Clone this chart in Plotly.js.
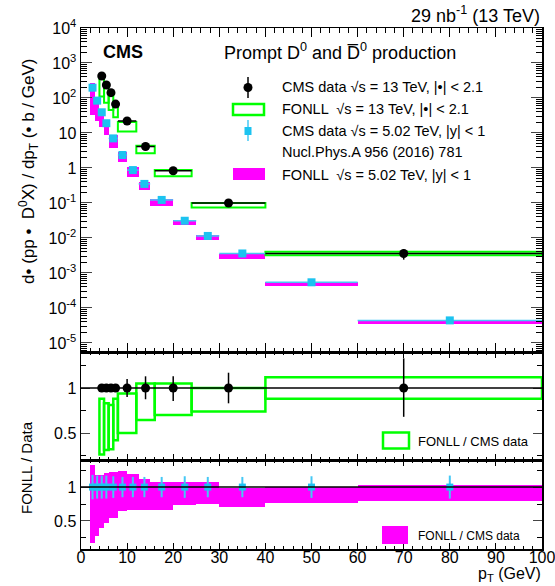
<!DOCTYPE html>
<html><head><meta charset="utf-8">
<script src="https://cdn.plot.ly/plotly-3.0.1.min.js"></script>
<style>body{margin:0;background:#fff}#c{width:555px;height:586px}</style>
</head><body><div id="c"></div>
<script>
// ---- 13 TeV CMS data (|eta|<2.1) ----
const bins13Lo = [4, 5, 6, 7, 8, 12, 16, 24, 40];
const bins13Hi = [5, 6, 7, 8, 12, 16, 24, 40, 100];
const pt13 = [4.5, 5.5, 6.5, 7.5, 10, 14, 20, 32, 70];
const cms13 = [425, 235, 142, 67, 22, 4.1, 0.83, 0.10, 0.0036];
const cms13Err = [15, 8, 5, 2.5, 2.2, 0.53, 0.12, 0.017, 0.0012];
const fonll13Min = [110, 73, 45, 28, 11, 2.64, 0.58, 0.074, 0.0032];
const fonll13Max = [374, 195, 115, 59, 20.7, 4.3, 0.87, 0.10, 0.0040];
const ratio13Min = [0.26, 0.31, 0.32, 0.42, 0.50, 0.645, 0.70, 0.74, 0.88];
const ratio13Max = [0.88, 0.83, 0.81, 0.88, 0.94, 1.05, 1.05, 1.00, 1.12];
const data13Ratio = [1, 1, 1, 1, 1, 1, 1, 1, 1];
const ratio13ErrUp = [0.02, 0.02, 0.02, 0.02, 0.10, 0.13, 0.13, 0.17, 0.33];
const ratio13ErrDn = [0.02, 0.02, 0.02, 0.02, 0.10, 0.125, 0.145, 0.17, 0.32];

// ---- 5.02 TeV CMS data (|y|<1) ----
const bins5Lo = [2, 3, 4, 5, 6, 8, 10, 12.5, 15, 20, 25, 30, 40, 60];
const bins5Hi = [3, 4, 5, 6, 8, 10, 12.5, 15, 20, 25, 30, 40, 60, 100];
const pt5 = [2.5, 3.5, 4.5, 5.5, 7, 9, 11.25, 13.75, 17.5, 22.5, 27.5, 35, 50, 80];
const cms5 = [197, 84, 39, 19, 7.0, 2.35, 0.87, 0.35, 0.122, 0.031, 0.0114, 0.0036, 0.00054, 0.000044];
const cms5Err = [30, 13, 6, 3, 1.1, 0.35, 0.13, 0.05, 0.018, 0.005, 0.0017, 0.00055, 0.00008, 0.000007];
const fonll5Min = [33.5, 22.7, 15.2, 8.8, 3.8, 1.5, 0.57, 0.23, 0.080, 0.023, 0.0086, 0.00256, 0.00042, 0.000035];
const fonll5Max = [262, 99, 46, 23, 8.5, 2.9, 1.04, 0.39, 0.131, 0.033, 0.0122, 0.00355, 0.00054, 0.0000455];
const ratio5Min = [0.17, 0.27, 0.39, 0.465, 0.54, 0.64, 0.66, 0.66, 0.66, 0.74, 0.75, 0.71, 0.77, 0.80];
const ratio5Max = [1.33, 1.18, 1.18, 1.21, 1.22, 1.24, 1.20, 1.12, 1.07, 1.07, 1.07, 0.985, 1.0, 1.035];
const data5Ratio = [1, 1, 1, 1, 1, 1, 1, 1, 1, 1, 1, 1, 1, 1];
const ratio5Err = [0.18, 0.17, 0.17, 0.17, 0.16, 0.15, 0.15, 0.15, 0.15, 0.16, 0.15, 0.15, 0.16, 0.17];

// ---- axis tick labels ----
const logTickVals = [1e-5, 1e-4, 1e-3, 1e-2, 1e-1, 1, 10, 100, 1000, 10000];
const logTickText = ['10<sup>-5</sup>', '10<sup>-4</sup>', '10<sup>-3</sup>', '10<sup>-2</sup>', '10<sup>-1</sup>', '1', '10', '10<sup>2</sup>', '10<sup>3</sup>', '10<sup>4</sup>'];
const ratioTickVals = [0.5, 1];
const ratioTickText = ['0.5', '1'];
const xTickVals = [0, 10, 20, 30, 40, 50, 60, 70, 80, 90, 100];
const xTickText = ['0', '10', '20', '30', '40', '50', '60', '70', '80', '90', '100'];

const GREEN = '#00ff00', MAG = '#ff00ff', CYAN = '#1cc3f0', CYANERR = '#45c8f5';
const FONT = 'Liberation Sans, Arial, sans-serif';

const widths = (lo, hi) => lo.map((v, i) => hi[i] - v);
const halfw = (lo, hi) => lo.map((v, i) => (hi[i] - v) / 2);
const mids = (lo, hi) => lo.map((v, i) => (hi[i] + v) / 2);
const diff = (a, b) => a.map((v, i) => b[i] - v);

const traces = [
  {type: 'bar', xaxis: 'x3', yaxis: 'y3', x: mids(bins5Lo, bins5Hi), width: widths(bins5Lo, bins5Hi),
   base: fonll5Min, y: diff(fonll5Min, fonll5Max), marker: {color: MAG, line: {width: 0}}, hoverinfo: 'skip'},
  {type: 'scatter', mode: 'markers', xaxis: 'x3', yaxis: 'y3', x: pt5, y: cms5,
   error_y: {type: 'data', array: cms5Err, color: CYANERR, thickness: 1.5, width: 0},
   error_x: {type: 'data', array: halfw(bins5Lo, bins5Hi), color: CYANERR, thickness: 1.5, width: 0},
   marker: {symbol: 'square', size: 8, color: CYAN}},
  {type: 'bar', xaxis: 'x3', yaxis: 'y3', x: mids(bins13Lo, bins13Hi), width: widths(bins13Lo, bins13Hi),
   base: fonll13Min, y: diff(fonll13Min, fonll13Max), marker: {color: 'rgba(0,0,0,0)', line: {width: 2, color: GREEN}}, hoverinfo: 'skip'},
  {type: 'scatter', mode: 'markers', xaxis: 'x3', yaxis: 'y3', x: pt13, y: cms13,
   error_y: {type: 'data', array: cms13Err, color: '#000', thickness: 1.5, width: 0},
   error_x: {type: 'data', array: halfw(bins13Lo, bins13Hi), color: '#000', thickness: 1.5, width: 0},
   marker: {symbol: 'circle', size: 9, color: '#000'}},

  {type: 'bar', xaxis: 'x2', yaxis: 'y2', x: mids(bins13Lo, bins13Hi), width: widths(bins13Lo, bins13Hi),
   base: ratio13Min, y: diff(ratio13Min, ratio13Max), marker: {color: 'rgba(0,0,0,0)', line: {width: 2.5, color: GREEN}}, hoverinfo: 'skip'},
  {type: 'scatter', mode: 'markers', xaxis: 'x2', yaxis: 'y2', x: pt13, y: data13Ratio,
   error_y: {type: 'data', symmetric: false, array: ratio13ErrUp, arrayminus: ratio13ErrDn, color: '#000', thickness: 1.5, width: 0},
   marker: {symbol: 'circle', size: 9, color: '#000'}},

  {type: 'bar', xaxis: 'x', yaxis: 'y', x: mids(bins5Lo, bins5Hi), width: widths(bins5Lo, bins5Hi),
   base: ratio5Min, y: diff(ratio5Min, ratio5Max), marker: {color: MAG, line: {width: 0}}, hoverinfo: 'skip'},
  {type: 'scatter', mode: 'markers', xaxis: 'x', yaxis: 'y', x: pt5, y: data5Ratio,
   error_y: {type: 'data', array: ratio5Err, color: CYANERR, thickness: 2, width: 0},
   marker: {symbol: 'square', size: 7, color: CYAN}}
];

const PX = v => (v - 81) / 461;
const PY = v => (549 - v) / 521;

const baseX = {range: [0, 100], ticks: 'inside', showline: true, linecolor: '#000', linewidth: 1.5, mirror: 'ticks',
  tickmode: 'array', tickvals: xTickVals, ticktext: xTickText, tickcolor: '#000', tickwidth: 1, showgrid: false, zeroline: false,
  ticklabeloverflow: 'allow', tickfont: {family: FONT, size: 16, color: '#000'}};
const ratioY = {ticks: 'inside', ticklen: 9, tickmode: 'array', tickvals: ratioTickVals, ticktext: ratioTickText,
  minor: {tick0: 0, dtick: 0.25, ticklen: 5, ticks: 'inside', tickcolor: '#000'}, showline: true, linecolor: '#000', linewidth: 1.5,
  mirror: 'ticks', showgrid: false, zeroline: false, tickfont: {family: FONT, size: 16, color: '#000'}};

const layout = {
  width: 555, height: 586, paper_bgcolor: '#fff', plot_bgcolor: '#fff', showlegend: false,
  margin: {l: 81, r: 13, t: 28, b: 37}, barmode: 'overlay', bargap: 0,
  font: {family: FONT, color: '#000'},
  xaxis: Object.assign({}, baseX, {anchor: 'y', ticklen: 6, ticklabelstandoff: -7, minor: {tick0: 0, dtick: 2, ticklen: 3, ticks: 'inside', tickcolor: '#000'}}),
  xaxis2: Object.assign({}, baseX, {anchor: 'y2', matches: 'x', showticklabels: false, ticklen: 6, minor: {tick0: 0, dtick: 2, ticklen: 3, ticks: 'inside', tickcolor: '#000'}}),
  xaxis3: Object.assign({}, baseX, {anchor: 'y3', matches: 'x', showticklabels: false, ticklen: 9, minor: {tick0: 0, dtick: 2, ticklen: 4.5, ticks: 'inside', tickcolor: '#000'}}),
  yaxis: Object.assign({}, ratioY, {domain: [0, 0.1708], range: [0.085, 1.4]}),
  yaxis2: Object.assign({}, ratioY, {domain: [0.1708, 0.3781], range: [0.2, 1.4]}),
  yaxis3: {domain: [0.3781, 1], type: 'log', range: [-5.26, 4], ticks: 'inside', ticklen: 11, tickmode: 'array',
    tickvals: logTickVals, ticktext: logTickText,
    minor: {dtick: 'D1', ticklen: 6, ticks: 'inside', tickcolor: '#000'}, showline: true, linecolor: '#000', linewidth: 1.5, mirror: 'ticks',
    showgrid: false, zeroline: false, tickfont: {family: FONT, size: 16, color: '#000'}},
  shapes: [
    {type: 'line', xref: 'x2 domain', yref: 'y2', x0: 0, x1: 1, y0: 1, y1: 1, line: {color: '#000', width: 1.5}},
    {type: 'line', xref: 'x domain', yref: 'y', x0: 0, x1: 1, y0: 1, y1: 1, line: {color: '#000', width: 1.5}},
    {type: 'line', xref: 'paper', yref: 'paper', x0: PX(248), x1: PX(248), y0: PY(77), y1: PY(98), line: {color: '#000', width: 1.5}},
    {type: 'circle', xref: 'paper', yref: 'paper', x0: PX(243.5), x1: PX(252.5), y0: PY(83), y1: PY(92), fillcolor: '#000', line: {color: '#000', width: 0}},
    {type: 'rect', xref: 'paper', yref: 'paper', x0: PX(233), x1: PX(264), y0: PY(104), y1: PY(115), line: {color: GREEN, width: 2.5}},
    {type: 'line', xref: 'paper', yref: 'paper', x0: PX(248), x1: PX(248), y0: PY(120), y1: PY(141), line: {color: CYANERR, width: 1.5}},
    {type: 'rect', xref: 'paper', yref: 'paper', x0: PX(244.5), x1: PX(251.5), y0: PY(127), y1: PY(135), fillcolor: CYAN, line: {width: 0}},
    {type: 'rect', xref: 'paper', yref: 'paper', x0: PX(233), x1: PX(265), y0: PY(168), y1: PY(180), fillcolor: MAG, line: {width: 0}},
    {type: 'rect', xref: 'paper', yref: 'paper', x0: PX(383), x1: PX(409), y0: PY(432.5), y1: PY(448.5), line: {color: GREEN, width: 2.5}},
    {type: 'rect', xref: 'paper', yref: 'paper', x0: PX(382), x1: PX(408), y0: PY(526), y1: PY(544), fillcolor: MAG, line: {width: 0}}
  ],
  annotations: [
    {xref: 'paper', yref: 'paper', x: PX(542), y: PY(15), xanchor: 'right', yanchor: 'middle', showarrow: false,
     text: '29 nb<sup>-1</sup> (13 TeV)', font: {family: FONT, size: 18, color: '#000'}},
    {xref: 'paper', yref: 'paper', x: PX(101), y: PY(52), xanchor: 'left', yanchor: 'middle', showarrow: false,
     text: '<b>CMS</b>', font: {family: FONT, size: 18, color: '#000'}},
    {xref: 'paper', yref: 'paper', x: PX(222), y: PY(51), xanchor: 'left', yanchor: 'middle', showarrow: false,
     text: 'Prompt D<sup>0</sup> and D\u0305<sup>0</sup> production', font: {family: FONT, size: 18, color: '#000'}},
    {xref: 'paper', yref: 'paper', x: PX(280), y: PY(87.5), xanchor: 'left', yanchor: 'middle', showarrow: false,
     text: 'CMS data \u221As = 13 TeV, |\u2022| < 2.1', font: {family: FONT, size: 14.5, color: '#000'}},
    {xref: 'paper', yref: 'paper', x: PX(280), y: PY(109), xanchor: 'left', yanchor: 'middle', showarrow: false,
     text: 'FONLL  \u221As = 13 TeV, |\u2022| < 2.1', font: {family: FONT, size: 14.5, color: '#000'}},
    {xref: 'paper', yref: 'paper', x: PX(280), y: PY(130.5), xanchor: 'left', yanchor: 'middle', showarrow: false,
     text: 'CMS data \u221As = 5.02 TeV, |y| < 1', font: {family: FONT, size: 14.5, color: '#000'}},
    {xref: 'paper', yref: 'paper', x: PX(280), y: PY(151.5), xanchor: 'left', yanchor: 'middle', showarrow: false,
     text: 'Nucl.Phys.A 956 (2016) 781', font: {family: FONT, size: 14.5, color: '#000'}},
    {xref: 'paper', yref: 'paper', x: PX(280), y: PY(174.5), xanchor: 'left', yanchor: 'middle', showarrow: false,
     text: 'FONLL  \u221As = 5.02 TeV, |y| < 1', font: {family: FONT, size: 14.5, color: '#000'}},
    {xref: 'paper', yref: 'paper', x: PX(416), y: PY(441), xanchor: 'left', yanchor: 'middle', showarrow: false,
     text: 'FONLL / CMS data', font: {family: FONT, size: 13, color: '#000'}},
    {xref: 'paper', yref: 'paper', x: PX(416), y: PY(536), xanchor: 'left', yanchor: 'middle', showarrow: false,
     text: 'FONLL / CMS data', font: {family: FONT, size: 12, color: '#000'}},
    {xref: 'paper', yref: 'paper', x: PX(28), y: PY(172), xanchor: 'center', yanchor: 'middle', showarrow: false, textangle: -90,
     text: 'd\u2022 (pp \u2022  D<sup>0</sup>X) / dp<sub>T</sub> (\u2022 b / GeV)', font: {family: FONT, size: 17, color: '#000'}},
    {xref: 'paper', yref: 'paper', x: PX(26), y: PY(468), xanchor: 'center', yanchor: 'middle', showarrow: false, textangle: -90,
     text: 'FONLL / Data', font: {family: FONT, size: 15, color: '#000'}},
    {xref: 'paper', yref: 'paper', x: PX(543), y: PY(574), xanchor: 'right', yanchor: 'middle', showarrow: false,
     text: 'p<sub>T</sub> (GeV)', font: {family: FONT, size: 16, color: '#000'}}
  ]
};

Plotly.newPlot('c', traces, layout, {staticPlot: true, displayModeBar: false});
</script>
</body></html>
